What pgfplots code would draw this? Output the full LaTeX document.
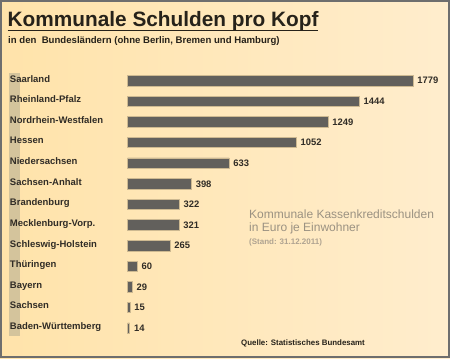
\documentclass[border=0pt]{standalone}
\usepackage{pgfplots}
\pgfplotsset{compat=1.18}
\usepackage{fontspec}
\setmainfont{Liberation Sans}
\definecolor{bgL}{RGB}{255,227,170}
\definecolor{bgR}{RGB}{255,237,205}
\definecolor{stripc}{RGB}{212,196,156}
\definecolor{framec}{RGB}{110,110,110}
\definecolor{titlec}{RGB}{38,34,26}
\definecolor{labc}{RGB}{48,44,38}
\definecolor{barc}{RGB}{98,96,92}
\definecolor{barb}{RGB}{205,185,145}
\definecolor{annc}{RGB}{155,146,130}
\definecolor{annc2}{RGB}{175,163,145}
\begin{document}
\begin{tikzpicture}[x=1bp,y=1bp]
\useasboundingbox (0,0) rectangle (450,-358);
\shade[left color=bgL, right color=bgR] (0,0) rectangle (450,-358);
\fill[stripc] (9,-73) rectangle (20,-336);
\draw[framec, line width=2bp] (1,-1) rectangle (449,-357);
\node[anchor=base west, inner sep=0pt, font=\fontsize{20.8bp}{24bp}\selectfont\bfseries, text=titlec] at (7.5,-26.5) {Kommunale Schulden pro Kopf};
\draw[titlec, line width=1.6bp] (7.5,-30.3) -- (318,-30.3);
\node[anchor=base west, inner sep=0pt, font=\fontsize{9.6bp}{11bp}\selectfont\bfseries, text=titlec] at (8,-43) {in den~ Bundesländern (ohne Berlin, Bremen und Hamburg)};
\begin{axis}[
  at={(127.5bp,-80.7bp)}, anchor=north west,
  scale only axis, width=285.5bp, height=247.5bp,
  xmin=0, xmax=1779, ymin=0, ymax=12, y dir=reverse,
  enlargelimits=false, clip=false,
  axis line style={draw=none}, tick style={draw=none},
  xtick=\empty,
  ytick={0,1,2,3,4,5,6,7,8,9,10,11,12},
  yticklabels={Saarland,Rheinland-Pfalz,Nordrhein-Westfalen,Hessen,Niedersachsen,Sachsen-Anhalt,Brandenburg,Mecklenburg-Vorp.,Schleswig-Holstein,Thüringen,Bayern,Sachsen,Baden-Württemberg},
  yticklabel style={anchor=base west, inner sep=0pt, xshift=-113.5bp, yshift=-1.4bp, font=\fontsize{9.5bp}{11bp}\selectfont\bfseries, text=labc},
  xbar, bar width=10.5bp,
  point meta=x,
  /pgf/number format/assume math mode=true,
  /pgf/number format/1000 sep={},
  nodes near coords,
  nodes near coords style={anchor=west, inner sep=0pt, xshift=4bp, font=\fontsize{9.4bp}{11bp}\selectfont\bfseries, text=labc},
]
\addplot[fill=barc, draw=barb, line width=0.8bp] coordinates {
(1779,0) (1444,1) (1249,2) (1052,3) (633,4) (398,5) (322,6) (321,7) (265,8) (60,9) (29,10) (15,11) (14,12)};
\end{axis}
\node[anchor=base west, inner sep=0pt, font=\fontsize{12bp}{13bp}\selectfont, text=annc] at (249,-218.5) {Kommunale Kassenkreditschulden};
\node[anchor=base west, inner sep=0pt, font=\fontsize{12bp}{13bp}\selectfont, text=annc] at (249,-231.5) {in Euro je Einwohner};
\node[anchor=base west, inner sep=0pt, font=\fontsize{8bp}{9bp}\selectfont\bfseries, text=annc2] at (249,-244.5) {(Stand: 31.12.2011)};
\node[anchor=base west, inner sep=0pt, font=\fontsize{7.9bp}{9bp}\selectfont\bfseries, text=titlec] at (241,-345) {Quelle: Statistisches Bundesamt};
\end{tikzpicture}
\end{document}
